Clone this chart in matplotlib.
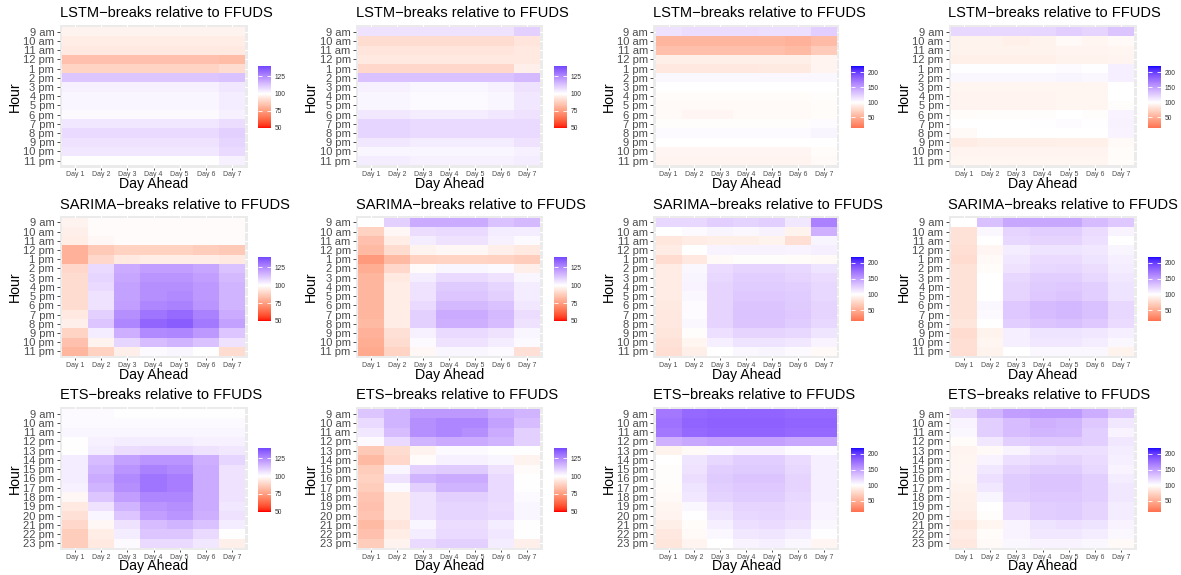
import numpy as np
import matplotlib
matplotlib.use("Agg")
import matplotlib.pyplot as plt
from matplotlib.colors import ListedColormap, Normalize

plt.rcParams['font.family'] = ['Liberation Sans', 'DejaVu Sans']

# ---------------- data ----------------
days = ["Day 1", "Day 2", "Day 3", "Day 4", "Day 5", "Day 6", "Day 7"]
hours_ampm = ["9 am", "10 am", "11 am", "12 pm", "1 pm", "2 pm", "3 pm", "4 pm",
              "5 pm", "6 pm", "7 pm", "8 pm", "9 pm", "10 pm", "11 pm"]
hours_24 = ["9 am", "10 am", "11 am", "12 pm", "13 pm", "14 pm", "15 pm", "16 pm",
            "17 pm", "18 pm", "19 pm", "20 pm", "21 pm", "22 pm", "23 pm"]
row_titles = ["LSTM\u2212breaks relative to FFUDS",
              "SARIMA\u2212breaks relative to FFUDS",
              "ETS\u2212breaks relative to FFUDS"]
limits_narrow = [50, 140]
limits_wide = [15, 220]
ticks_narrow = [50, 75, 100, 125]
ticks_wide = [50, 100, 150, 200]

lstm_1 = [
    [97, 97, 97, 97, 97, 97, 97],
    [95, 95, 95, 95, 95, 95, 95],
    [94, 94, 94, 94, 94, 94, 94],
    [84, 84, 84, 84, 84, 84, 83],
    [89, 89, 89, 89, 89, 89, 91],
    [112, 112, 112, 112, 112, 112, 113],
    [103, 103, 103, 103, 103, 103, 105],
    [102, 102, 102, 102, 102, 102, 104],
    [102, 102, 102, 102, 102, 102, 104],
    [101, 101, 101, 101, 101, 101, 103],
    [105, 105, 105, 105, 105, 105, 107],
    [108, 108, 108, 108, 108, 108, 110],
    [106, 106, 106, 106, 106, 106, 109],
    [105, 105, 105, 105, 105, 105, 108],
    [100, 100, 100, 100, 100, 100, 103],
]
lstm_2 = [
    [106, 106, 106, 106, 106, 106, 110],
    [91, 91, 91, 91, 91, 91, 93],
    [93, 93, 93, 93, 93, 93, 94],
    [94, 94, 94, 94, 94, 94, 94],
    [90, 90, 90, 90, 90, 90, 96],
    [113, 113, 113, 113, 113, 113, 115],
    [103, 103, 102, 102, 102, 103, 106],
    [102, 102, 101, 101, 101, 102, 105],
    [102, 102, 101, 101, 101, 102, 105],
    [105, 105, 104, 104, 104, 105, 106],
    [109, 109, 108, 108, 108, 108, 108],
    [109, 109, 108, 108, 108, 108, 108],
    [105, 105, 104, 104, 104, 104, 106],
    [102, 102, 102, 102, 102, 102, 103],
    [104, 104, 103, 103, 103, 103, 104],
]
lstm_3 = [
    [115, 117, 117, 117, 116, 116, 125],
    [55, 55, 55, 55, 55, 52, 58],
    [60, 60, 60, 60, 60, 57, 68],
    [90, 90, 90, 90, 90, 90, 93],
    [86, 86, 86, 86, 87, 87, 93],
    [104, 104, 104, 104, 104, 104, 104],
    [100, 100, 100, 100, 100, 100, 100],
    [98, 98, 98, 98, 98, 98, 99],
    [96, 96, 96, 96, 96, 96, 98],
    [96, 95, 95, 96, 96, 96, 98],
    [99, 99, 99, 99, 99, 99, 102],
    [103, 103, 103, 103, 103, 103, 105],
    [100, 100, 100, 100, 100, 100, 100],
    [95, 95, 95, 95, 95, 95, 98],
    [93, 93, 93, 93, 93, 93, 96],
]
lstm_4 = [
    [120, 120, 120, 121, 125, 122, 130],
    [92, 92, 91, 92, 96, 94, 96],
    [92, 92, 92, 92, 93, 93, 94],
    [91, 91, 91, 91, 92, 92, 93],
    [101, 101, 101, 101, 102, 101, 108],
    [104, 104, 104, 104, 105, 104, 108],
    [94, 94, 94, 94, 94, 94, 100],
    [93, 93, 93, 93, 94, 94, 100],
    [93, 93, 93, 93, 94, 94, 99],
    [98, 99, 99, 99, 100, 99, 106],
    [100, 100, 100, 101, 102, 101, 107],
    [97, 100, 100, 100, 100, 100, 106],
    [88, 90, 90, 90, 91, 91, 97],
    [93, 93, 93, 93, 93, 93, 98],
    [94, 94, 94, 94, 94, 94, 98],
]
sarima_1 = [
    [97, 99, 99, 99, 99, 99, 99],
    [96, 99, 99, 99, 99, 99, 99],
    [95, 98, 99, 99, 99, 99, 99],
    [80, 86, 88, 88, 88, 87, 86],
    [80, 90, 94, 95, 95, 95, 94],
    [90, 108, 118, 121, 121, 119, 113],
    [91, 109, 119, 123, 123, 121, 115],
    [91, 108, 120, 124, 124, 122, 116],
    [91, 106, 120, 124, 125, 122, 116],
    [91, 106, 121, 126, 127, 123, 116],
    [94, 110, 124, 130, 132, 127, 118],
    [96, 112, 126, 133, 135, 129, 120],
    [89, 104, 117, 125, 126, 122, 112],
    [84, 97, 109, 114, 116, 113, 106],
    [81, 88, 96, 101, 102, 100, 91],
]
sarima_2 = [
    [100, 110, 118, 118, 118, 113, 115],
    [88, 98, 107, 108, 108, 104, 104],
    [84, 95, 104, 106, 106, 103, 101],
    [82, 91, 97, 98, 98, 96, 94],
    [74, 82, 88, 89, 89, 88, 87],
    [79, 90, 99, 102, 102, 101, 96],
    [81, 94, 104, 108, 108, 106, 102],
    [81, 95, 106, 111, 111, 109, 104],
    [81, 95, 106, 112, 112, 110, 104],
    [81, 95, 108, 115, 115, 113, 105],
    [81, 95, 110, 118, 118, 115, 107],
    [82, 95, 110, 117, 117, 114, 106],
    [80, 92, 103, 108, 108, 106, 102],
    [79, 91, 101, 106, 106, 104, 101],
    [78, 89, 98, 102, 102, 101, 92],
]
sarima_3 = [
    [120, 120, 125, 123, 125, 112, 165],
    [100, 103, 105, 104, 107, 92, 140],
    [85, 88, 90, 90, 92, 80, 105],
    [88, 100, 106, 107, 107, 106, 108],
    [78, 86, 97, 99, 99, 98, 97],
    [88, 104, 118, 122, 122, 120, 114],
    [88, 105, 120, 124, 124, 122, 118],
    [88, 106, 122, 126, 126, 124, 120],
    [88, 104, 122, 128, 128, 126, 120],
    [87, 102, 122, 130, 130, 127, 122],
    [86, 102, 122, 131, 131, 128, 122],
    [86, 104, 122, 130, 130, 126, 120],
    [84, 99, 116, 122, 122, 120, 113],
    [82, 94, 108, 114, 114, 112, 106],
    [80, 90, 100, 104, 105, 103, 96],
]
sarima_4 = [
    [100, 132, 145, 145, 145, 135, 128],
    [82, 104, 122, 124, 124, 118, 106],
    [82, 100, 120, 122, 122, 116, 100],
    [80, 95, 110, 114, 114, 112, 105],
    [78, 96, 112, 118, 118, 114, 108],
    [82, 98, 115, 120, 121, 117, 110],
    [82, 100, 120, 124, 124, 120, 112],
    [82, 100, 122, 127, 128, 124, 114],
    [82, 100, 122, 128, 130, 125, 114],
    [82, 104, 128, 135, 136, 132, 120],
    [82, 103, 128, 134, 136, 132, 120],
    [84, 100, 125, 130, 132, 128, 118],
    [78, 92, 108, 114, 114, 112, 108],
    [80, 94, 108, 112, 112, 110, 104],
    [80, 92, 100, 104, 104, 104, 92],
]
ets_1 = [
    [101, 101, 100, 100, 100, 100, 100],
    [101, 101, 101, 101, 101, 101, 101],
    [102, 102, 102, 102, 102, 102, 102],
    [100, 103, 104, 104, 104, 103, 103],
    [100, 104, 107, 108, 108, 106, 105],
    [104, 114, 120, 123, 123, 117, 109],
    [104, 116, 123, 127, 125, 118, 106],
    [104, 118, 125, 130, 128, 118, 106],
    [103, 116, 124, 130, 128, 118, 106],
    [98, 112, 121, 126, 126, 118, 106],
    [94, 106, 116, 123, 124, 118, 105],
    [92, 102, 112, 121, 123, 117, 106],
    [90, 98, 106, 114, 116, 113, 104],
    [87, 95, 104, 112, 112, 108, 100],
    [87, 94, 101, 108, 108, 105, 96],
]
ets_2 = [
    [112, 116, 122, 122, 122, 118, 116],
    [108, 116, 124, 126, 126, 120, 114],
    [105, 114, 124, 126, 124, 118, 110],
    [101, 108, 116, 118, 118, 116, 110],
    [86, 91, 97, 101, 101, 100, 100],
    [82, 90, 99, 103, 103, 102, 97],
    [87, 102, 110, 111, 111, 106, 99],
    [88, 106, 116, 118, 118, 108, 100],
    [87, 101, 110, 116, 116, 108, 100],
    [85, 95, 106, 110, 110, 108, 101],
    [84, 95, 106, 109, 109, 107, 102],
    [85, 95, 106, 109, 109, 108, 102],
    [82, 93, 102, 107, 107, 104, 100],
    [84, 95, 104, 108, 108, 105, 100],
    [87, 97, 108, 110, 110, 104, 96],
]
ets_3 = [
    [170, 178, 180, 180, 180, 178, 178],
    [172, 180, 182, 182, 182, 180, 180],
    [170, 178, 180, 180, 180, 178, 178],
    [140, 145, 148, 148, 148, 145, 145],
    [92, 96, 103, 106, 106, 102, 102],
    [100, 113, 120, 125, 125, 118, 108],
    [99, 115, 124, 127, 127, 120, 108],
    [99, 117, 127, 130, 130, 122, 108],
    [98, 114, 125, 128, 128, 122, 108],
    [96, 112, 123, 126, 126, 120, 108],
    [94, 104, 116, 122, 122, 118, 106],
    [93, 101, 113, 120, 121, 118, 106],
    [90, 98, 108, 116, 118, 115, 104],
    [86, 96, 104, 112, 113, 110, 101],
    [84, 93, 100, 106, 108, 104, 95],
]
ets_4 = [
    [118, 138, 150, 152, 152, 142, 128],
    [106, 124, 134, 140, 138, 128, 112],
    [104, 124, 134, 138, 136, 125, 106],
    [98, 112, 124, 128, 128, 124, 112],
    [93, 96, 106, 114, 116, 116, 110],
    [94, 106, 116, 120, 122, 118, 108],
    [95, 112, 122, 126, 126, 120, 106],
    [94, 116, 126, 130, 130, 124, 110],
    [92, 112, 126, 130, 130, 124, 112],
    [91, 105, 124, 128, 128, 124, 112],
    [90, 100, 118, 124, 126, 122, 110],
    [88, 99, 118, 124, 126, 122, 110],
    [85, 94, 106, 114, 116, 114, 106],
    [88, 98, 106, 112, 112, 110, 104],
    [86, 97, 104, 106, 106, 104, 96],
]

panels = [[lstm_1, lstm_2, lstm_3, lstm_4],
          [sarima_1, sarima_2, sarima_3, sarima_4],
          [ets_1, ets_2, ets_3, ets_4]]
row_hours = [hours_ampm, hours_ampm, hours_24]


# ---------------- colour helpers (ggplot-like Lab gradient2) ----------------
def srgb2lab(c):
    c = np.asarray(c, float)
    lin = np.where(c <= 0.04045, c / 12.92, ((c + 0.055) / 1.055) ** 2.4)
    M = np.array([[0.4124564, 0.3575761, 0.1804375],
                  [0.2126729, 0.7151522, 0.0721750],
                  [0.0193339, 0.1191920, 0.9503041]])
    xyz = M @ lin
    t = xyz / np.array([0.95047, 1.0, 1.08883])
    d = 6 / 29
    f = np.where(t > d ** 3, np.cbrt(t), t / (3 * d * d) + 4 / 29)
    return np.array([116 * f[1] - 16, 500 * (f[0] - f[1]), 200 * (f[1] - f[2])])


def lab2srgb(lab):
    L, a, b = lab
    fy_ = (L + 16) / 116
    fx_ = fy_ + a / 500
    fz_ = fy_ - b / 200
    d = 6 / 29
    f = np.array([fx_, fy_, fz_])
    t = np.where(f > d, f ** 3, 3 * d * d * (f - 4 / 29))
    xyz = t * np.array([0.95047, 1.0, 1.08883])
    Minv = np.array([[3.2404542, -1.5371385, -0.4985314],
                     [-0.9692660, 1.8760108, 0.0415560],
                     [0.0556434, -0.2040259, 1.0572252]])
    lin = np.clip(Minv @ xyz, 0, 1)
    c = np.where(lin <= 0.0031308, 12.92 * lin, 1.055 * lin ** (1 / 2.4) - 0.055)
    return np.clip(c, 0, 1)


LAB_LO = srgb2lab([1, 0, 0])
LAB_MID = srgb2lab([1, 1, 1])
LAB_HI = srgb2lab([0, 0, 1])


def ramp(t):
    if t <= 0.5:
        lab = LAB_LO + (LAB_MID - LAB_LO) * (t / 0.5)
    else:
        lab = LAB_MID + (LAB_HI - LAB_MID) * ((t - 0.5) / 0.5)
    return lab2srgb(lab)


def make_cmap(lo, hi, mid=100):
    m = max(mid - lo, hi - mid)
    vs = np.linspace(lo, hi, 256)
    cols = [ramp(0.5 + (v - mid) / (2 * m)) for v in vs]
    return ListedColormap(cols), Normalize(lo, hi)


# ---------------- layout (pixels) ----------------
W, H = 1181, 575
fig = plt.figure(figsize=(W / 100, H / 100), dpi=100)
fig.patch.set_facecolor('white')

col_left = [62, 358.3, 655.7, 951]
col_right = [245, 540, 836.7, 1134.3]
row_top = [27.1, 217.7, 409]
row_bot = [165.3, 356, 548]
cb_left = [258, 554.3, 851, 1148]
cb_w = 13
cb_top = [66, 256.7, 447.7]
cb_bot = [128, 321, 511.7]
title_y = [13.3, 205, 395]
xlab_y = [184, 375, 566]

pad_x = 2.5
pad_y = 2.2


def fx(px):
    return px / W


def fy(py):
    return 1 - py / H


for r in range(3):
    for c in range(4):
        data = np.array(panels[r][c], float)
        lims = limits_narrow if c < 2 else limits_wide
        ticks = ticks_narrow if c < 2 else ticks_wide
        cmap, norm = make_cmap(*lims)

        l = col_left[c] - pad_x
        rgt = col_right[c] + pad_x
        t = row_top[r] - pad_y
        b = row_bot[r] + pad_y
        ax = fig.add_axes([fx(l), fy(b), fx(rgt - l), (b - t) / H])
        ax.set_facecolor('#EBEBEB')
        for s in ax.spines.values():
            s.set_visible(False)

        nx, ny = len(days), len(row_hours[r])
        ux = pad_x / ((col_right[c] - col_left[c]) / nx)
        uy = pad_y / ((row_bot[r] - row_top[r]) / ny)
        xs = np.arange(nx + 1) + 0.5
        ys = np.arange(ny + 1) + 0.5
        ax.pcolormesh(xs, ys, data, cmap=cmap, norm=norm, zorder=2,
                      edgecolors='none', antialiased=False)
        ax.set_xlim(0.5 - ux, nx + 0.5 + ux)
        ax.set_ylim(ny + 0.5 + uy, 0.5 - uy)
        ax.set_xticks(np.arange(1, nx + 1))
        ax.set_xticklabels(days, fontsize=5, color='#4D4D4D')
        ax.set_yticks(np.arange(1, ny + 1))
        ax.set_yticklabels(row_hours[r], fontsize=8, color='#4D4D4D')
        ax.tick_params(axis='y', length=2.2, width=0.6, color='#333333', pad=1.5)
        ax.tick_params(axis='x', length=1.6, width=0.6, color='#333333', pad=0.8)
        ax.grid(True, color='white', linewidth=0.8, zorder=1)
        ax.set_axisbelow(True)

        # title (left aligned to panel)
        fig.text(fx(l), fy(title_y[r]), row_titles[r], fontsize=10.5,
                 ha='left', va='center', color='black')
        # axis titles
        fig.text(fx((col_left[c] + col_right[c]) / 2), fy(xlab_y[r]), "Day Ahead",
                 fontsize=10.2, ha='center', va='center', color='black')
        fig.text(fx(col_left[c] - 47), fy((row_top[r] + row_bot[r]) / 2), "Hour",
                 fontsize=10.2, ha='center', va='center', rotation=90, color='black')

        # colourbar
        cax = fig.add_axes([fx(cb_left[c]), fy(cb_bot[r]), fx(cb_w),
                            (cb_bot[r] - cb_top[r]) / H])
        sm = matplotlib.cm.ScalarMappable(norm=norm, cmap=cmap)
        cb = fig.colorbar(sm, cax=cax, ticks=ticks)
        cb.outline.set_visible(False)
        cax.tick_params(axis='y', direction='in', length=2.6, width=0.6,
                        color='white', left=True, right=True, labelleft=False,
                        labelright=True, labelsize=4.8, labelcolor='#333333', pad=2.5)

fig.savefig("out.png", dpi=100, facecolor='white')
